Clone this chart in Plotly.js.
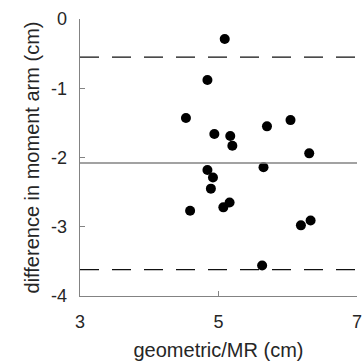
<!DOCTYPE html>
<html>
<head>
<meta charset="utf-8">
<script src="https://cdn.plot.ly/plotly-3.0.1.min.js"></script>
<style>html,body{margin:0;padding:0;background:#fff;}#chart{width:363px;height:364px;}</style>
</head>
<body>
<div id="chart"></div>
<script>
const geometricMR = [5.09, 4.84, 4.53, 6.04, 4.94, 5.17, 5.20, 5.70, 6.31, 4.84, 4.92, 4.89, 5.65, 5.16, 5.07, 4.59, 6.19, 6.33, 5.63];
const difference  = [-0.29, -0.88, -1.43, -1.46, -1.66, -1.69, -1.83, -1.55, -1.94, -2.18, -2.29, -2.45, -2.14, -2.65, -2.72, -2.77, -2.98, -2.91, -3.56];
const meanDiff = -2.08;
const upperLimit = -0.55;
const lowerLimit = -3.62;
const xTicks = [3, 5, 7];
const yTicks = [0, -1, -2, -3, -4];

const axisColor = '#838383';
const textColor = '#262626';
const fontFamily = 'Liberation Sans, Arial, sans-serif';

const data = [{
  type: 'scatter', mode: 'markers',
  x: geometricMR, y: difference,
  marker: {color: '#000', size: 10},
  hoverinfo: 'skip', showlegend: false
}];

const layout = {
  width: 363, height: 364,
  margin: {l: 80, r: 6, t: 19, b: 68},
  paper_bgcolor: '#fff', plot_bgcolor: '#fff',
  font: {family: fontFamily, size: 18, color: textColor},
  showlegend: false,
  xaxis: {
    range: [3, 7], tickvals: xTicks, ticktext: xTicks.map(String),
    showgrid: false, zeroline: false,
    showline: true, linecolor: axisColor, linewidth: 1.3,
    ticks: 'inside', ticklen: 5, tickcolor: axisColor, tickwidth: 1,
    ticklabelstandoff: 9,
    tickfont: {size: 18, color: textColor},
    title: {text: 'geometric/MR (cm)', font: {size: 20, color: textColor}, standoff: 12}
  },
  yaxis: {
    range: [-4, 0], tickvals: yTicks, ticktext: yTicks.map(String),
    showgrid: false, zeroline: false,
    showline: true, linecolor: axisColor, linewidth: 1.3,
    ticks: 'inside', ticklen: 5, tickcolor: axisColor, tickwidth: 1,
    ticklabelstandoff: 8,
    tickfont: {size: 18, color: textColor},
    title: {text: 'difference in moment arm (cm)', font: {size: 20, color: textColor}, standoff: 6}
  },
  shapes: [
    {type: 'line', xref: 'paper', yref: 'y', x0: 0, x1: 1, y0: upperLimit, y1: upperLimit,
     line: {color: '#111', width: 1.2, dash: '19px,13px'}},
    {type: 'line', xref: 'paper', yref: 'y', x0: 0, x1: 1, y0: meanDiff, y1: meanDiff,
     line: {color: axisColor, width: 1.4}},
    {type: 'line', xref: 'paper', yref: 'y', x0: 0, x1: 1, y0: lowerLimit, y1: lowerLimit,
     line: {color: '#111', width: 1.2, dash: '19px,13px'}}
  ]
};

Plotly.newPlot('chart', data, layout, {displayModeBar: false, staticPlot: true});
</script>
</body>
</html>
